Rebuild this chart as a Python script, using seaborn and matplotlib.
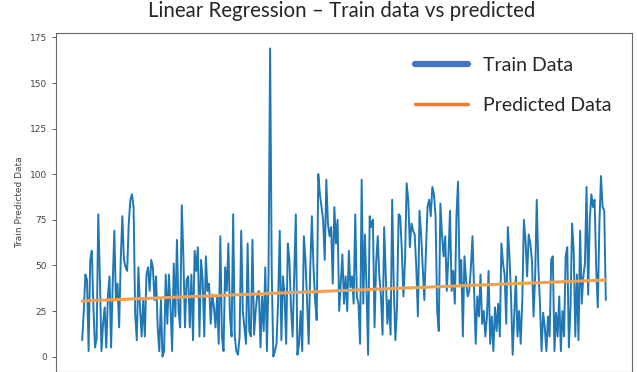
import numpy as np
import pandas as pd
import matplotlib
matplotlib.use("Agg")
import matplotlib.pyplot as plt
from matplotlib.lines import Line2D
import seaborn as sns

# values, left to right, in three stretches
train_left = [9, 25, 45, 42, 3, 53, 58, 27, 5, 10, 78, 44, 3, 18, 27, 5, 33,
              44, 5, 40, 69, 31, 40, 16, 53, 77, 53, 49, 47, 73, 86, 89, 82,
              23, 9, 49, 27, 11, 31, 11, 45, 49, 36, 53, 49, 31, 44, 16, 3, 31,
              0, 3, 45, 18, 45, 27, 3, 51, 22, 64, 25, 16, 83, 55, 16, 42, 44,
              16, 45, 9, 58, 47, 60, 11, 53, 42, 11, 55, 36, 40, 18, 34, 27,
              16, 33, 7, 66, 11, 3, 49, 36, 62, 22, 11, 78, 11, 3, 1, 11, 69,
              25, 16, 7, 62, 14, 11, 64, 12, 25, 34, 36]
train_middle = [5, 33, 14, 49, 3, 44, 169, 47, 0, 3, 7, 31, 69, 9, 44, 33, 7,
                62, 53, 27, 11, 44, 78, 1, 7, 25, 3, 66, 53, 31, 7, 49, 77, 49,
                31, 20, 100, 89, 82, 75, 53, 97, 73, 66, 71, 40, 82, 62, 75, 25,
                40, 56, 29, 44, 25, 58, 38, 44, 29, 78, 33, 29, 7, 97, 29, 67,
                38, 1, 77, 71, 75, 16, 51, 66, 44, 33, 12, 71, 45, 18, 31, 12,
                86, 38, 9, 27, 78, 77, 58, 33, 53, 95, 86, 60, 73, 69, 67, 49,
                22, 80, 67, 49, 31, 58, 82, 86, 77]
train_right = [93, 89, 77, 25, 14, 84, 67, 55, 66, 36, 55, 80, 36, 47, 29, 77,
               96, 40, 53, 11, 55, 42, 33, 36, 49, 66, 36, 7, 33, 22, 45, 18,
               25, 11, 22, 47, 7, 22, 3, 27, 14, 29, 11, 62, 51, 45, 18, 71, 55,
               33, 1, 22, 44, 11, 25, 7, 31, 75, 64, 44, 67, 62, 53, 22, 44, 86,
               49, 29, 3, 24, 16, 3, 22, 11, 53, 55, 3, 24, 11, 33, 3, 25, 11,
               55, 60, 5, 27, 73, 58, 11, 45, 9, 69, 29, 44, 51, 93, 34, 75, 89,
               82, 86, 49, 27, 73, 99, 82, 80, 31]
train_values = train_left + train_middle + train_right

# regression line end points
predicted_ends = [30.5, 42.0]

title = "Linear Regression \u2013 Train data vs predicted"
y_label = "Train Predicted Data"
y_ticks = [0, 25, 50, 75, 100, 125, 150, 175]
legend_labels = ["Train Data", "Predicted Data"]


def build_frames():
    """Return the train series and the regression line as dataframes"""
    train = pd.DataFrame({"idx": np.arange(len(train_values)),
                          "value": train_values})
    pred = pd.DataFrame({"idx": [0, len(train_values) - 1],
                         "value": predicted_ends})
    return train, pred


def draw(train, pred):
    sns.set_style("ticks")
    plt.rcParams["font.family"] = ["DejaVu Sans"]

    fig = plt.figure(figsize=(6.37, 3.72), dpi=100)
    ax = fig.add_axes([56 / 637, 0.0, 576 / 637, 339 / 372])

    sns.lineplot(data=train, x="idx", y="value", ax=ax, color="#1f77b4",
                 linewidth=1.4)
    sns.lineplot(data=pred, x="idx", y="value", ax=ax, color="#f5a050",
                 linewidth=2.2)

    ax.set_yticks(y_ticks)
    ax.tick_params(axis="y", labelsize=6.5, colors="#444444", length=3,
                   width=0.6)
    ax.set_xticks([])
    ax.set_xlabel("")
    ax.set_ylabel(y_label, fontsize=6.5, color="#444444")
    for sp in ax.spines.values():
        sp.set_color("#666666")
        sp.set_linewidth(0.8)

    fig.suptitle(title, fontsize=14.8, family="Lato", x=0.537, y=0.997,
                 va="top")

    # legend drawn with its own handles, like the pasted-on one in the picture
    handles = [Line2D([], [], color="#4472c4", linewidth=4.5),
               Line2D([], [], color="#ed7d31", linewidth=2.5)]
    ax.legend(handles, legend_labels, loc="upper right", frameon=False,
              prop={"family": "Lato", "size": 14}, handlelength=2.7,
              labelspacing=1.15, bbox_to_anchor=(0.995, 0.98))

    fig.savefig("out.png", dpi=100)


if __name__ == "__main__":
    train_df, pred_df = build_frames()
    draw(train_df, pred_df)
